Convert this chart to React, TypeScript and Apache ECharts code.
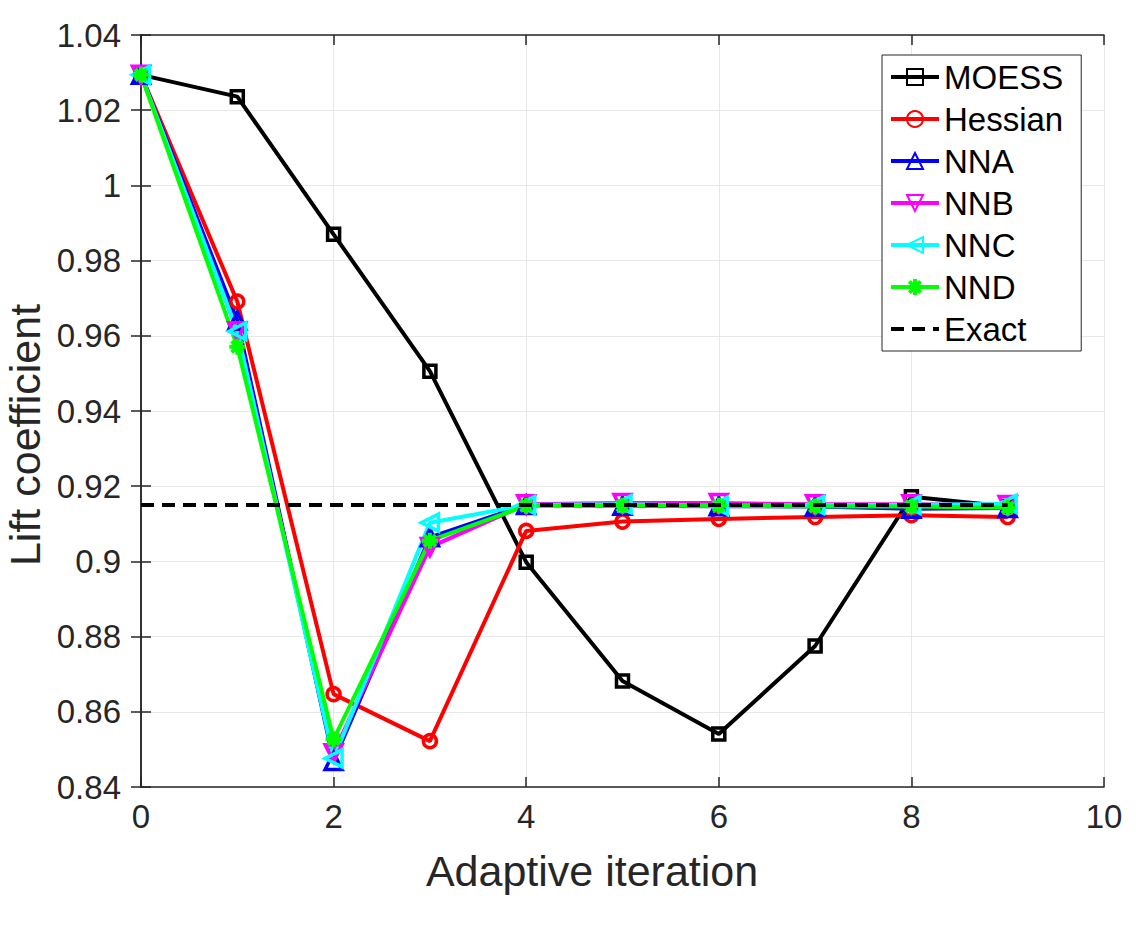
import React, { useEffect, useRef } from "react";
import * as echarts from "echarts";

const iterations = [0, 1, 2, 3, 4, 5, 6, 7, 8, 9];
const moess = [1.0294, 1.0236, 0.987, 0.9506, 0.8998, 0.8682, 0.8541, 0.8775, 0.9172, 0.9146];
const hessian = [1.0294, 0.9691, 0.8647, 0.8522, 0.9081, 0.9106, 0.9113, 0.9118, 0.9123, 0.9118];
const nna = [1.0294, 0.964, 0.8469, 0.9064, 0.915, 0.9148, 0.9147, 0.9146, 0.914, 0.9142];
const nnb = [1.0294, 0.9612, 0.849, 0.9038, 0.9152, 0.9155, 0.9155, 0.9152, 0.9152, 0.915];
const nnc = [1.0294, 0.9612, 0.8476, 0.9103, 0.915, 0.9152, 0.9148, 0.915, 0.915, 0.9153];
const nnd = [1.0294, 0.9571, 0.8527, 0.9055, 0.9148, 0.9148, 0.9148, 0.9146, 0.9146, 0.9143];
const exactValue = 0.915;
const exactRange = [0, 9];
const xTitle = "Adaptive iteration";
const yTitle = "Lift coefficient";

const FONT = "'Liberation Sans', Arial, Helvetica, sans-serif";
const TXT = "#262626";

const STAR =
  "path://M0,7.5 L20,7.5 L20,12.5 L0,12.5 Z M7.5,0 L12.5,0 L12.5,20 L7.5,20 Z M1.2,4.7 L4.7,1.2 L18.8,15.3 L15.3,18.8 Z M15.3,1.2 L18.8,4.7 L4.7,18.8 L1.2,15.3 Z";
const TRI_UP = "path://M5,0 L10,9 L0,9 Z";
const TRI_DOWN = "path://M0,0 L10,0 L5,9 Z";
const TRI_LEFT = "path://M0,5 L9,0 L9,10 Z";

function pts(vals: number[]) {
  return vals.map((v, i) => [iterations[i], v]);
}

export default function App() {
  const ref = useRef<HTMLDivElement>(null);
  useEffect(() => {
    document.body.style.margin = "0";
    const chart = echarts.init(ref.current!, null, { renderer: "svg" });
    const lw = 4;
    const mk = (name: string, data: number[], color: string, symbol: string, size: number, filled = false) => ({
      name,
      type: "line",
      data: pts(data),
      symbol,
      symbolSize: size,
      showAllSymbol: true,
      lineStyle: { color, width: lw },
      itemStyle: { color: filled ? color : "rgba(255,255,255,0)", borderColor: color, borderWidth: filled ? 0 : 3.5 },
      emphasis: { disabled: true },
      z: 2,
    });
    const axisLine = { show: true, lineStyle: { color: TXT, width: 1.5 } };
    chart.setOption({
      animation: false,
      textStyle: { fontFamily: FONT },
      grid: { left: 141, right: 32, top: 35, bottom: 151, containLabel: false, outerBoundsMode: "none" },
      graphic: [
        {
          type: "text",
          x: 592,
          y: 871,
          style: { text: xTitle, font: `43px ${FONT}`, fill: TXT, align: "center", verticalAlign: "middle" },
        },
        {
          type: "text",
          x: 25,
          y: 435,
          rotation: Math.PI / 2,
          style: { text: yTitle, font: `43px ${FONT}`, fill: TXT, align: "center", verticalAlign: "middle" },
        },
      ],
      legend: {
        orient: "vertical",
        left: 882,
        top: 55,
        backgroundColor: "#fff",
        borderColor: "#262626",
        borderWidth: 1,
        borderRadius: 0,
        padding: [5, 18, 5, 7],
        itemGap: 8,
        itemWidth: 48,
        itemHeight: 20,
        lineStyle: { width: 4 },
        textStyle: { fontSize: 33, color: "#000", fontFamily: FONT, lineHeight: 34, padding: [0, 0, 0, 0] },
        data: [
          "MOESS",
          "Hessian",
          "NNA",
          "NNB",
          "NNC",
          "NND",
          { name: "Exact", itemStyle: { color: "rgba(0,0,0,0)", borderWidth: 0, opacity: 0 } },
        ],
      },
      xAxis: [
        {
          type: "value",
          min: 0,
          max: 10,
          interval: 2,
          axisLine,
          axisTick: { show: true, inside: true, length: 10, lineStyle: { color: TXT, width: 1.5 } },
          axisLabel: { fontSize: 33, color: TXT, margin: 13, fontFamily: FONT },
          splitLine: { show: true, lineStyle: { color: "#e8e8e8", width: 1 } },
        },
        {
          type: "value",
          position: "top",
          min: 0,
          max: 10,
          interval: 2,
          axisLine,
          axisTick: { show: true, inside: true, length: 10, lineStyle: { color: TXT, width: 1.5 } },
          axisLabel: { show: false },
          splitLine: { show: false },
        },
      ],
      yAxis: [
        {
          type: "value",
          min: 0.84,
          max: 1.04,
          interval: 0.02,
          axisLine,
          axisTick: { show: true, inside: true, length: 10, lineStyle: { color: TXT, width: 1.5 } },
          axisLabel: {
            fontSize: 33,
            color: TXT,
            margin: 20,
            fontFamily: FONT,
            formatter: (v: number) => String(parseFloat(v.toFixed(2))),
          },
          splitLine: { show: true, lineStyle: { color: "#e8e8e8", width: 1 } },
        },
        {
          type: "value",
          position: "right",
          min: 0.84,
          max: 1.04,
          interval: 0.02,
          axisLine,
          axisTick: { show: true, inside: true, length: 10, lineStyle: { color: TXT, width: 1.5 } },
          axisLabel: { show: false },
          splitLine: { show: false },
        },
      ],
      series: [
        mk("MOESS", moess, "#000000", "rect", 12),
        mk("Hessian", hessian, "#ff0000", "circle", 13),
        mk("NNA", nna, "#0000ff", TRI_UP, 17),
        mk("NNB", nnb, "#ff00ff", TRI_DOWN, 17),
        mk("NNC", nnc, "#00ffff", TRI_LEFT, 17),
        mk("NND", nnd, "#00ff00", STAR, 16, true),
        {
          name: "Exact",
          type: "line",
          data: exactRange.map((x) => [x, exactValue]),
          symbol: "none",
          lineStyle: { color: "#000", width: lw, type: [13, 8] },
          itemStyle: { color: "#000" },
          emphasis: { disabled: true },
          z: 3,
        },
      ],
    });
    return () => chart.dispose();
  }, []);
  return <div ref={ref} style={{ position: "absolute", left: 0, top: 0, width: 1136, height: 938, background: "#fff" }} />;
}
